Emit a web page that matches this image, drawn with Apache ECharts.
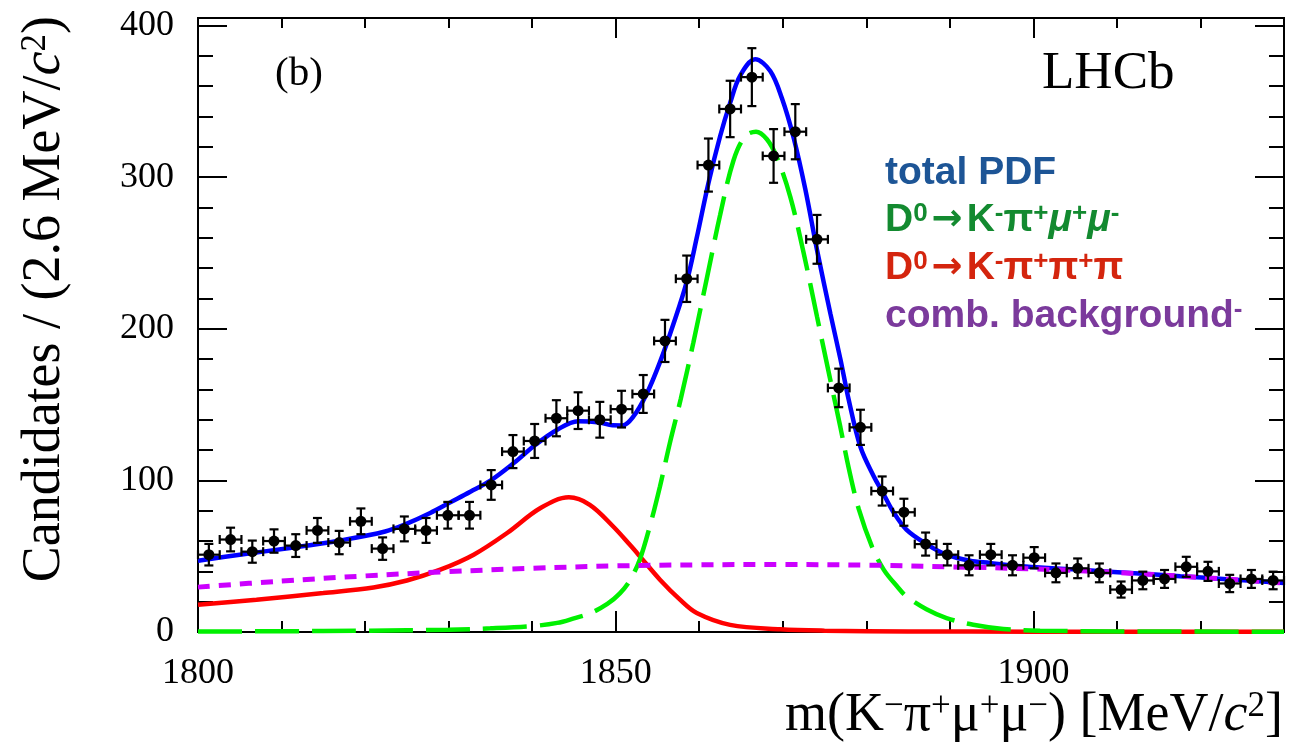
<!DOCTYPE html>
<html>
<head>
<meta charset="utf-8">
<script src="https://cdn.jsdelivr.net/npm/echarts@6/dist/echarts.min.js"></script>
<style>
  html, body { margin: 0; padding: 0; background: #ffffff; }
  #chart { width: 1305px; height: 747px; }
</style>
</head>
<body>
<div id="chart"></div>
<script>
// m(K-pi+mu+mu-) spectrum, 2.6 MeV/c2 bins from 1800 to 1930 MeV/c2
const binCenters = [
  1801.3, 1803.9, 1806.5, 1809.1, 1811.7, 1814.3, 1816.9, 1819.5, 1822.1, 1824.7,
  1827.3, 1829.9, 1832.5, 1835.1, 1837.7, 1840.3, 1842.9, 1845.5, 1848.1, 1850.7,
  1853.3, 1855.9, 1858.5, 1861.1, 1863.7, 1866.3, 1868.9, 1871.5, 1874.1, 1876.7,
  1879.3, 1881.9, 1884.5, 1887.1, 1889.7, 1892.3, 1894.9, 1897.5, 1900.1, 1902.7,
  1905.3, 1907.9, 1910.5, 1913.1, 1915.7, 1918.3, 1920.9, 1923.5, 1926.1, 1928.7
];
const binHalfWidth = 1.3;
const counts = [
  51, 61, 53, 60, 57, 67, 59, 73, 55, 68,
  67, 77, 77, 97, 119, 126, 141, 146, 140, 147,
  157, 192, 233, 308, 345, 366, 314, 330, 259, 161,
  135, 93, 79, 58, 51, 44, 51, 44, 49, 39,
  42, 39, 28, 34, 35, 43, 40, 32, 35, 34
];
const countErrors = [
  7.1, 7.8, 7.3, 7.7, 7.5, 8.2, 7.7, 8.5, 7.4, 8.2,
  8.2, 8.8, 8.8, 9.8, 10.9, 11.2, 11.9, 12.1, 11.8, 12.1,
  12.5, 13.9, 15.3, 17.5, 18.6, 19.1, 17.7, 18.2, 16.1, 12.7,
  11.6, 9.6, 8.9, 7.6, 7.1, 6.6, 7.1, 6.6, 7.0, 6.2,
  6.5, 6.2, 5.3, 5.8, 5.9, 6.6, 6.3, 5.7, 5.9, 5.8
];

// fit components, [mass, candidates per bin]
const totalPdf = [
  [1800, 47.0], [1805, 51.0], [1811, 55.4], [1817, 60.4], [1822.4, 66.3],
  [1825, 71.5], [1827.8, 78.5], [1830.2, 85.5], [1832.6, 92.5], [1835, 99.8],
  [1837.8, 111.4], [1840.4, 123.5], [1843, 133.4], [1845.5, 139.0], [1848.1, 138.2],
  [1849.6, 136.3], [1850.8, 136.2], [1852.1, 142.0], [1853.7, 157.0], [1855.3, 178.0],
  [1856.9, 203.0], [1858.5, 231.0], [1859.7, 260.0], [1861.1, 296.0], [1862.5, 327.0],
  [1863.7, 349.0], [1864.9, 367.0], [1866.7, 377.8], [1868.5, 370.0], [1869.9, 352.0],
  [1871.3, 326.0], [1872.7, 292.0], [1874.1, 252.0], [1875.7, 210.0], [1876.9, 180.0],
  [1877.9, 153.0], [1879.3, 122.0], [1880.9, 102.6], [1881.9, 92.7], [1883.2, 79.5],
  [1884.8, 67.5], [1887.2, 58.0], [1889.6, 51.0], [1892.4, 47.0], [1894.8, 45.5],
  [1897.6, 43.7], [1900.8, 42.6], [1905.6, 41.0], [1911.6, 38.9], [1917.6, 36.8],
  [1923.6, 34.7], [1930, 32.3]
];
const signalPdf = [
  [1800, 0.3], [1810, 0.5], [1820, 0.8], [1830, 1.5], [1835, 2.4],
  [1840, 3.9], [1843, 6.0], [1845, 9.0], [1847, 12.5], [1849, 18.5],
  [1850.5, 25.5], [1851.7, 34.0], [1852.9, 48.0], [1854.1, 70.0], [1855.3, 96.0],
  [1856.5, 125.0], [1857.8, 154.0], [1859.3, 191.0], [1860.9, 233.0], [1862.5, 275.0],
  [1864.1, 311.0], [1865.5, 327.0], [1866.8, 330.0], [1868.1, 325.0], [1869.3, 313.0],
  [1870.9, 287.0], [1872.5, 250.0], [1874.1, 208.0], [1875.7, 166.0], [1876.9, 135.0],
  [1877.9, 108.0], [1879.1, 81.0], [1880.7, 56.0], [1882.1, 41.0], [1883.7, 30.0],
  [1884.8, 23.5], [1887.2, 15.0], [1889.6, 9.2], [1892.8, 4.8], [1896.4, 2.0],
  [1900.8, 0.9], [1910, 0.4], [1930, 0.2]
];
const peakingPdf = [
  [1800, 18.0], [1807, 21.3], [1815, 25.7], [1821, 29.4], [1825, 34.0],
  [1829, 41.1], [1833, 51.0], [1837, 65.3], [1841, 81.8], [1844.4, 88.8],
  [1846.9, 83.9], [1849.7, 69.6], [1851.7, 57.5], [1852.9, 49.9], [1855.3, 34.5],
  [1857.7, 21.3], [1859.7, 12.5], [1863.7, 4.7], [1869.7, 1.8], [1875, 0.9],
  [1885, 0.4], [1900, 0.2], [1930, 0.1]
];
const combinatorialPdf = [
  [1800, 29.6], [1810, 33.6], [1820, 37.0], [1830, 39.8], [1840, 42.0],
  [1850, 43.6], [1860, 44.3], [1870, 44.5], [1880, 44.1], [1890, 43.0],
  [1900, 41.6], [1910, 39.2], [1920, 36.0], [1930, 32.3]
];

const serif = '"Liberation Serif", "Times New Roman", serif';
const sans = '"Liberation Sans", Arial, sans-serif';
const black = '#000000';

function tickAxis(dim, position, interval, length, withLabels) {
  const isX = dim === 'x';
  const axis = {
    type: 'value',
    position: position,
    min: isX ? 1800 : 0,
    max: isX ? 1930 : 405,
    interval: interval,
    axisLine: { show: true, onZero: false, lineStyle: { color: black, width: 2 } },
    axisTick: { show: true, inside: true, length: length, lineStyle: { color: black, width: 2 } },
    splitLine: { show: false },
    axisLabel: { show: false },
    silent: true
  };
  if (withLabels) {
    axis.axisLabel = {
      show: true,
      showMinLabel: true,
      showMaxLabel: true,
      margin: isX ? 24 : 24,
      color: black,
      fontFamily: serif,
      fontSize: 36,
      formatter: function (v) { return (v % interval === 0) ? String(v) : ''; }
    };
  }
  return axis;
}

function renderPoint(params, api) {
  const m = api.value(0), n = api.value(1), err = api.value(2), hw = api.value(3);
  const c = api.coord([m, n]);
  const top = api.coord([m, n + err]);
  const bot = api.coord([m, n - err]);
  const lo = api.coord([m - hw, n]);
  const hi = api.coord([m + hw, n]);
  const st = { stroke: black, lineWidth: 2.2 };
  const cap = 4.5;
  return {
    type: 'group',
    children: [
      { type: 'line', shape: { x1: c[0], y1: top[1], x2: c[0], y2: bot[1] }, style: st },
      { type: 'line', shape: { x1: c[0] - cap, y1: top[1], x2: c[0] + cap, y2: top[1] }, style: st },
      { type: 'line', shape: { x1: c[0] - cap, y1: bot[1], x2: c[0] + cap, y2: bot[1] }, style: st },
      { type: 'line', shape: { x1: lo[0], y1: c[1], x2: hi[0], y2: c[1] }, style: st },
      { type: 'line', shape: { x1: lo[0], y1: c[1] - cap, x2: lo[0], y2: c[1] + cap }, style: st },
      { type: 'line', shape: { x1: hi[0], y1: c[1] - cap, x2: hi[0], y2: c[1] + cap }, style: st },
      { type: 'circle', shape: { cx: c[0], cy: c[1], r: 5.5 }, style: { fill: black } }
    ]
  };
}

function curve(name, data, color, dash, width, z) {
  return {
    type: 'line',
    name: name,
    xAxisIndex: 0,
    yAxisIndex: 0,
    data: data,
    showSymbol: false,
    smooth: 0.35,
    silent: true,
    z: z,
    lineStyle: { color: color, width: width, type: dash, cap: 'butt' }
  };
}

const supStyle = (size, color, weight, family) => ({
  fontSize: size, fill: color, fontWeight: weight, fontFamily: family, verticalAlign: 'top'
});

function legendRich(color) {
  return {
    s: supStyle(26, color, 'bold', sans),
    m: { fontSize: 39, fill: color, fontWeight: 'bold', fontStyle: 'italic', fontFamily: sans },
    a: { fontSize: 37, fill: color, fontWeight: 'bold', fontFamily: '"DejaVu Sans", sans-serif', padding: [0, 4, 0, 4] }
  };
}

function legendText(y, text, color) {
  return {
    type: 'text',
    x: 885,
    y: y,
    silent: true,
    style: {
      text: text,
      fill: color,
      fontFamily: sans,
      fontWeight: 'bold',
      fontSize: 39,
      textAlign: 'left',
      textVerticalAlign: 'middle',
      rich: legendRich(color)
    }
  };
}

const titleRich = {
  i: { fontSize: 54, fontStyle: 'italic', fontFamily: serif, fill: black },
  s: supStyle(35, black, 'normal', serif)
};

const chart = echarts.init(document.getElementById('chart'), null, { renderer: 'canvas' });

chart.setOption({
  animation: false,
  backgroundColor: '#ffffff',
  grid: { left: 198, top: 18, width: 1086, height: 614, containLabel: false, outerBoundsMode: 'none' },
  xAxis: [
    tickAxis('x', 'bottom', 10, 11, false),
    tickAxis('x', 'bottom', 50, 21, true),
    tickAxis('x', 'top', 10, 10, false),
    tickAxis('x', 'top', 50, 20, false)
  ],
  yAxis: [
    tickAxis('y', 'left', 20, 15, false),
    tickAxis('y', 'left', 100, 29, true),
    tickAxis('y', 'right', 20, 15, false),
    tickAxis('y', 'right', 100, 29, false)
  ],
  series: [
    curve('total PDF', totalPdf, '#0000ff', 'solid', 4.5, 2),
    curve('D0 -> K- pi+ pi+ pi-', peakingPdf, '#ff0000', 'solid', 4.5, 3),
    curve('D0 -> K- pi+ mu+ mu-', signalPdf, '#00f000', [44, 13], 4.5, 4),
    curve('comb. background', combinatorialPdf, '#cc00ff', [12, 9], 5, 5),
    {
      type: 'custom',
      name: 'data',
      xAxisIndex: 0,
      yAxisIndex: 0,
      z: 10,
      silent: true,
      renderItem: renderPoint,
      encode: { x: 0, y: 1 },
      data: binCenters.map((m, i) => [m, counts[i], countErrors[i], binHalfWidth])
    }
  ],
  graphic: [
    {
      type: 'text', x: 45, y: 16, rotation: Math.PI / 2, silent: true,
      style: {
        text: 'Candidates / (2.6 MeV/{i|c}{s|2})',
        fill: black, fontFamily: serif, fontSize: 54,
        textAlign: 'right', textVerticalAlign: 'middle',
        rich: titleRich
      }
    },
    {
      type: 'text', x: 1283, y: 716, silent: true,
      style: {
        text: 'm(K{s|\u2212}\u03c0{s|+}\u03bc{s|+}\u03bc{s|\u2212}) [MeV/{i|c}{s|2}]',
        fill: black, fontFamily: serif, fontSize: 54,
        textAlign: 'right', textVerticalAlign: 'middle',
        rich: titleRich
      }
    },
    {
      type: 'text', x: 1042, y: 74, silent: true,
      style: { text: 'LHCb', fill: black, fontFamily: serif, fontSize: 53, textAlign: 'left', textVerticalAlign: 'middle' }
    },
    {
      type: 'text', x: 275, y: 74, silent: true,
      style: { text: '(b)', fill: black, fontFamily: serif, fontSize: 41, textAlign: 'left', textVerticalAlign: 'middle' }
    },
    legendText(173, 'total PDF', '#1d5596'),
    legendText(220, 'D{s|0}{a|\u2192}K{s|-}\u03c0{s|+}{m|\u03bc}{s|+}{m|\u03bc}{s|-}', '#138a30'),
    legendText(268, 'D{s|0}{a|\u2192}K{s|-}\u03c0{s|+}\u03c0{s|+}\u03c0', '#d4250e'),
    legendText(316, 'comb. background{s|-}', '#7b3a9c')
  ]
});
</script>
</body>
</html>
